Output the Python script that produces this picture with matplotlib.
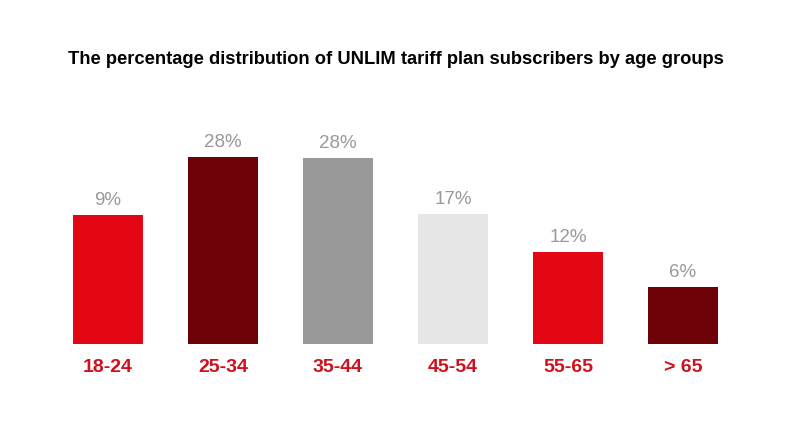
import matplotlib
matplotlib.use("Agg")
import matplotlib.pyplot as plt

# age groups and the shares printed above the bars
groups = ['18-24', '25-34', '35-44', '45-54', '55-65', '> 65']
shares = ['9%', '28%', '28%', '17%', '12%', '6%']
# bar heights as drawn in the picture (relative units, not the printed shares)
bar_heights = [129, 187, 186, 130, 92, 57]
colors = ['#e30613', '#6e0008', '#999999', '#e6e6e6', '#e30613', '#6e0008']

plt.rcParams['font.family'] = ['Liberation Sans', 'DejaVu Sans']

fig = plt.figure(figsize=(8, 4.4), dpi=100)
ax = fig.add_axes([50.5 / 800, 96 / 440, 690 / 800, 200 / 440])

x = range(len(groups))
bars = ax.bar(x, bar_heights, width=0.61, color=colors)

for b, s in zip(bars, shares):
    ax.annotate(s, (b.get_x() + b.get_width() / 2, b.get_height()),
                xytext=(0, 4), textcoords='offset points',
                ha='center', va='bottom', fontsize=13.5, color='#999999')

ax.set_xlim(-0.5, len(groups) - 0.5)
ax.set_ylim(0, 200)
ax.set_xticks(list(x))
ax.set_xticklabels(groups, fontsize=14, fontweight='bold', color='#d0101c')
ax.tick_params(axis='x', length=0, pad=11)
ax.set_yticks([])
for sp in ax.spines.values():
    sp.set_visible(False)

fig.text(396 / 800, 1 - 60 / 440,
         'The percentage distribution of UNLIM tariff plan subscribers by age groups',
         ha='center', va='center', fontsize=13.2, fontweight='bold', color='#000000')

fig.savefig('out.png', dpi=100)
